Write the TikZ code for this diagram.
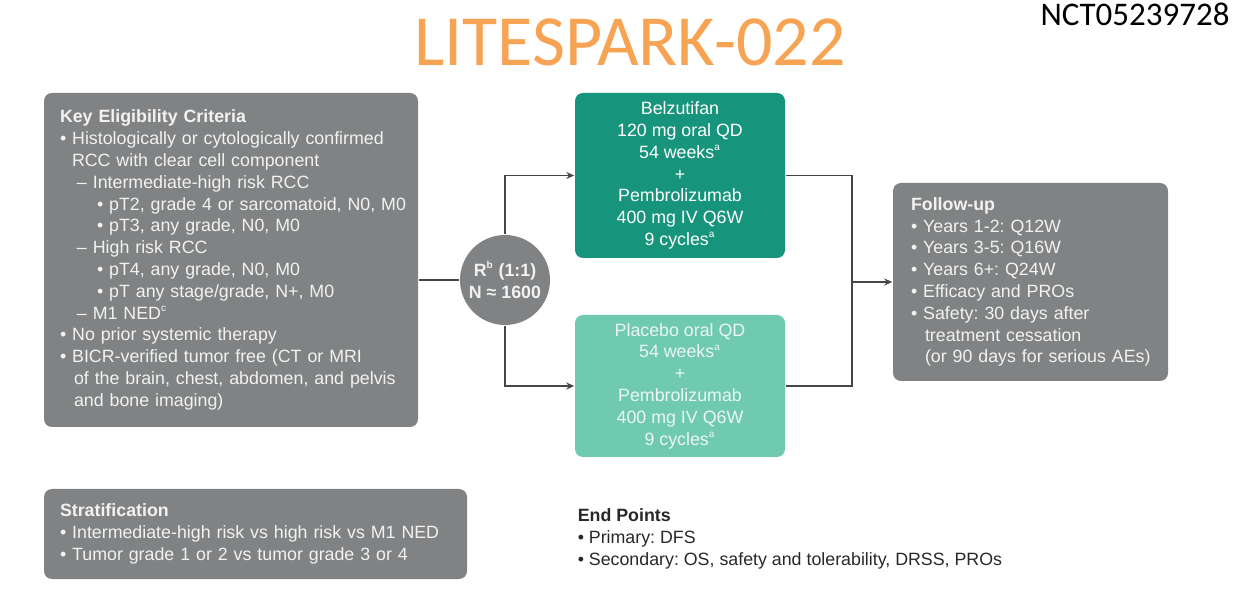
\documentclass[tikz,border=0pt]{standalone}
\usepackage{fontspec}
\setmainfont{Liberation Sans}
\newfontfamily\titlefont{Carlito}
\usetikzlibrary{arrows.meta,positioning}
\frenchspacing
\definecolor{ink}{RGB}{40,40,40}
\definecolor{wire}{RGB}{70,70,70}
\definecolor{panel}{RGB}{128,130,131}
\definecolor{paneltext}{RGB}{242,242,242}
\definecolor{armdark}{RGB}{22,148,124}
\definecolor{armlight}{RGB}{112,202,176}
\definecolor{armlighttext}{RGB}{236,246,242}
\definecolor{headline}{RGB}{247,163,84}
\newcommand\bodyfont{\fontsize{8.9}{10.9}\selectfont}
\newcommand\sups[1]{\textsuperscript{\tiny #1}}
\tikzset{
  every picture/.style={color=ink, line width=0.75pt},
  panel/.style={fill=panel, rounded corners=4pt, text=paneltext, align=left, inner xsep=8pt, font=\bodyfont},
  arm/.style={rounded corners=4pt, text=white, align=center, minimum width=105pt, font=\bodyfont},
  randc/.style={circle, fill=panel, text=paneltext, align=center, minimum size=45pt, inner sep=0pt, font=\bodyfont\bfseries},
  wire/.style={draw=wire, line width=0.75pt},
  flow/.style={wire, -{Stealth[length=4pt,width=3.5pt]}},
  note/.style={font=\bodyfont, text=ink, align=left, inner sep=0pt},
}
\begin{document}
\begin{tikzpicture}[x=0.5pt, y=-0.5pt]
  \useasboundingbox (0,0) rectangle (1252,592);
  % headings
  \node[font=\titlefont\fontsize{36}{40}\selectfont, text=headline] (title) at (630,42) {LITESPARK-022};
  \node[font=\titlefont\fontsize{16.5}{18}\selectfont, text=black] (nct) at (1135,14) {NCT05239728};
  % eligibility and stratification
  \node[panel, text width=171pt, minimum height=167pt] (elig) at (231,260) {\textbf{Key Eligibility Criteria}\\
    • Histologically or cytologically confirmed\\
    \hspace*{6pt}RCC with clear cell component\\
    \hspace*{8.5pt}– Intermediate-high risk RCC\\
    \hspace*{18.5pt}\mbox{• pT2, grade 4 or sarcomatoid, N0, M0}\\
    \hspace*{18.5pt}• pT3, any grade, N0, M0\\
    \hspace*{8.5pt}– High risk RCC\\
    \hspace*{18.5pt}• pT4, any grade, N0, M0\\
    \hspace*{18.5pt}• pT any stage/grade, N+, M0\\
    \hspace*{8.5pt}– M1 NED\sups{c}\\
    • No prior systemic therapy\\
    • BICR-verified tumor free (CT or MRI\\
    \hspace*{7pt}\mbox{of the brain, chest, abdomen, and pelvis}\\
    \hspace*{7pt}and bone imaging)};
  \node[panel, text width=195.5pt, minimum height=45pt] (strat) at (255.5,534) {\textbf{Stratification}\\
    \mbox{• Intermediate-high risk vs high risk vs M1 NED}\\
    • Tumor grade 1 or 2 vs tumor grade 3 or 4};
  % randomisation and arms
  \node[randc] (rand) at (505,280) {R\sups{b} (1:1)\\N ≈ 1600};
  \node[arm, fill=armdark, minimum height=82.5pt] (armA) at (680,175.5) {Belzutifan\\120 mg oral QD\\54 weeks\sups{a}\\+\\Pembrolizumab\\400 mg IV Q6W\\9 cycles\sups{a}};
  \node[arm, fill=armlight, text=armlighttext, minimum height=71pt] (armB) at (680,386) {Placebo oral QD\\54 weeks\sups{a}\\+\\Pembrolizumab\\400 mg IV Q6W\\9 cycles\sups{a}};
  \node[panel, text width=119.5pt, inner xsep=9pt, minimum height=99pt] (fu) at (1030.5,282) {\textbf{Follow-up}\\
    • Years 1-2: Q12W\\
    • Years 3-5: Q16W\\
    • Years 6+: Q24W\\
    • Efficacy and PROs\\
    • Safety: 30 days after\\
    \hspace*{7pt}treatment cessation\\
    \hspace*{7pt}\mbox{(or 90 days for serious AEs)}};
  \node[note, anchor=west] (ends) at (577,539) {\textbf{End Points}\\
    • Primary: DFS\\
    • Secondary: OS, safety and tolerability, DRSS, PROs};
  % connectors
  \coordinate (merge) at (852,282);
  \draw[wire] (elig.east |- rand.west) -- (rand.west);
  \draw[flow] (rand.north) |- (armA.west);
  \draw[flow] (rand.south) |- (armB.west);
  \draw[wire] (armA.east) -| (merge);
  \draw[wire] (armB.east) -| (merge);
  \draw[flow] (merge) -- (fu.west);
\end{tikzpicture}
\end{document}
